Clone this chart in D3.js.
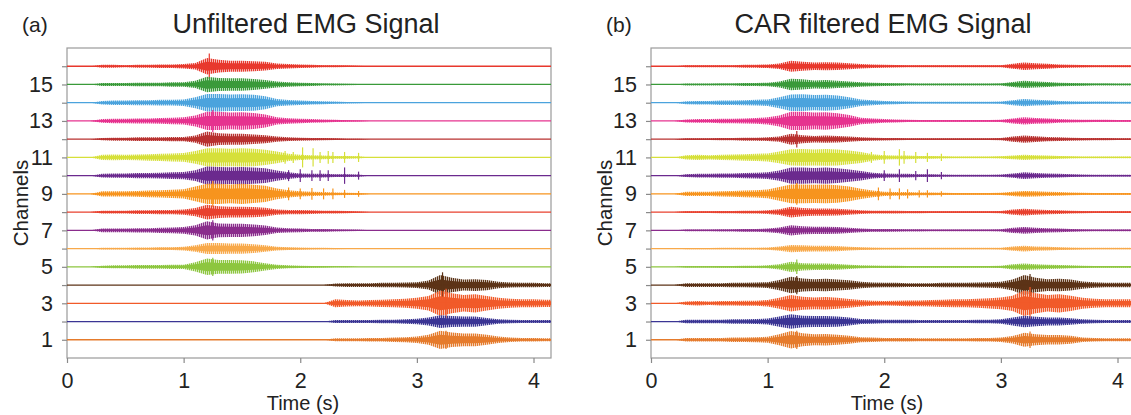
<!DOCTYPE html>
<html>
<head>
<meta charset="utf-8">
<script src="https://cdn.jsdelivr.net/npm/d3@7"></script>
<style>
  html, body { margin: 0; padding: 0; background: #fff; }
  svg { display: block; font-family: "Liberation Sans", Arial, sans-serif; }
</style>
</head>
<body>
<svg id="chart" width="1131" height="415"></svg>
<script>
// Sampling grid of the envelope arrays (s)
const times = [0,0.1,0.2,0.3,0.4,0.5,0.6,0.7,0.8,0.9,1.0,1.1,1.2,1.3,1.4,1.5,1.6,1.7,1.8,1.9,2.0,
               2.1,2.2,2.3,2.4,2.5,2.6,2.7,2.8,2.9,3.0,3.1,3.2,3.3,3.4,3.5,3.6,3.7,3.8,3.9,4.0,4.1,4.2];

const channels = [1,2,3,4,5,6,7,8,9,10,11,12,13,14,15,16];
const channelColors = ["#e57b2c","#3b3594","#f15a29","#5c3317","#8dc63f","#f8a94a","#8a2c8c","#e8412e",
                       "#f7941e","#6b2a8e","#d6e03a","#b8312f","#e6338f","#4ba3dd","#3a9a3a","#e8382d"];

const yTicks = [1,2,3,4,5,6,7,8,9,10,11,12,13,14,15,16];
const xTicks = [0,1,2,3,4];

// Envelope amplitude of each channel (channel-spacing units), rows = channel 1..16
const unfilteredEnvelope = [
  [0,0,0,0,0,0,0,0,0,0,0,0,0,0,0,0,0,0,0,0,0,0,0, .08,.08,.08,.1,.1,.12,.14,.18,.28,.5,.4,.35,.35,.28,.18,.12,.1,.1,.08,.08],
  [0,0,0,0,0,0,0,0,0,0,0,0,0,0,0,0,0,0,0,0,0,0,0, .08,.08,.08,.08,.1,.1,.12,.15,.22,.35,.3,.28,.28,.2,.12,.1,.08,.08,.08,.08],
  [0,0,0,0,0,0,0,0,0,0,0,0,0,0,0,0,0,0,0,0,0,0,0, .22,.18,.16,.18,.2,.22,.25,.3,.4,.7,.55,.45,.5,.4,.3,.25,.22,.22,.2,.2],
  [0,0,0,0,0,0,0,0,0,0,0,0,0,0,0,0,0,0,0,0,0,0,0, .08,.1,.1,.1,.12,.12,.14,.16,.25,.55,.4,.3,.32,.28,.18,.14,.12,.12,.1,.1],
  [0,0,0,.06,.08,.08,.1,.1,.1,.12,.12,.25,.45,.38,.38,.36,.3,.2,.12,.08,.06,.05,.04,.03,.02,0, 0,0,0,0,0,0,0,0,0,0,0,0,0,0,0,0,0],
  [0,0,0,.05,.05,.05,.06,.06,.08,.08,.1,.18,.3,.3,.28,.28,.24,.18,.1,.08,.06,.05,.04,.03,.02,0, 0,0,0,0,0,0,0,0,0,0,0,0,0,0,0,0,0],
  [0,0,0,.1,.1,.1,.12,.12,.14,.16,.18,.28,.5,.38,.36,.36,.32,.26,.15,.12,.1,.08,.08,.06,.05,.04, 0,0,0,0,0,0,0,0,0,0,0,0,0,0,0,0,0],
  [0,0,0,.08,.08,.08,.1,.1,.12,.12,.14,.22,.4,.32,.3,.3,.28,.24,.15,.12,.12,.1,.08,.08,.06,.04, 0,0,0,0,0,0,0,0,0,0,0,0,0,0,0,0,0],
  [0,0,0,.14,.14,.14,.16,.18,.2,.22,.26,.4,.55,.55,.52,.55,.5,.45,.3,.2,.14,.12,.1,.08,.06,.05, 0,0,0,0,0,0,0,0,0,0,0,0,0,0,0,0,0],
  [0,0,0,.1,.12,.12,.14,.14,.16,.18,.2,.3,.5,.48,.46,.48,.45,.4,.28,.18,.12,.1,.1,.08,.08,.06, 0,0,0,0,0,0,0,0,0,0,0,0,0,0,0,0,0],
  [0,0,0,.14,.16,.14,.16,.18,.2,.22,.24,.35,.5,.5,.48,.5,.48,.42,.32,.2,.14,.12,.1,.08,.08,.06, 0,0,0,0,0,0,0,0,0,0,0,0,0,0,0,0,0],
  [0,0,0,.06,.08,.08,.1,.1,.1,.12,.12,.2,.42,.32,.3,.3,.26,.22,.14,.1,.08,.07,.06,.05,.03,.02, 0,0,0,0,0,0,0,0,0,0,0,0,0,0,0,0,0],
  [0,0,0,.1,.12,.12,.14,.14,.16,.18,.2,.3,.5,.5,.46,.48,.44,.36,.2,.15,.12,.1,.08,.06,.04,.03, 0,0,0,0,0,0,0,0,0,0,0,0,0,0,0,0,0],
  [0,0,0,.1,.12,.12,.14,.14,.16,.16,.18,.3,.48,.48,.45,.46,.44,.36,.2,.15,.12,.1,.08,.06,.04,.03, 0,0,0,0,0,0,0,0,0,0,0,0,0,0,0,0,0],
  [0,0,0,.08,.08,.08,.1,.1,.1,.12,.12,.2,.42,.36,.34,.34,.3,.24,.16,.12,.1,.08,.06,.05,.04,.03, 0,0,0,0,0,0,0,0,0,0,0,0,0,0,0,0,0],
  [0,0,0,.08,.08,.06,.08,.08,.1,.1,.12,.18,.45,.35,.3,.3,.28,.24,.15,.12,.1,.08,.06,.05,.04,.03, 0,0,0,0,0,0,0,0,0,0,0,0,0,0,0,0,0]
];

const carEnvelope = [
  [0,0,0,.1,.1,.1,.1,.12,.12,.14,.16, .3,.48,.36,.3,.32,.28,.22,.14, .12,.1,.1,.1,.08,.08,.08,.08,.08,.1,.1, .12,.2,.38,.3,.26,.26,.22,.12,.1,.08,.08,.08,.08],
  [0,0,0,.1,.1,.1,.1,.12,.12,.14,.16, .28,.4,.32,.3,.3,.28,.22,.14, .12,.1,.1,.1,.08,.08,.08,.08,.08,.1,.1, .12,.22,.32,.26,.22,.22,.18,.12,.1,.08,.08,.08,.08],
  [0,0,0,.1,.12,.1,.12,.12,.14,.14,.18, .3,.45,.36,.32,.34,.3,.24,.18, .14,.12,.14,.16,.16,.18,.2,.22,.22,.25,.28, .32,.42,.7,.55,.45,.5,.42,.3,.25,.22,.22,.22,.22],
  [0,0,0,.1,.1,.1,.1,.12,.12,.14,.16, .28,.45,.36,.32,.34,.3,.26,.18, .14,.12,.12,.1,.1,.1,.12,.12,.12,.14,.15, .18,.3,.55,.4,.32,.34,.3,.2,.15,.12,.12,.12,.12],
  [0,0,0,.04,.04,.04,.05,.05,.06,.06,.08, .14,.28,.2,.18,.18,.16,.12,.08, .07,.06,.06,.05,.05,.05,.05,.05,.05,.05,.05, .06,.14,.18,.14,.12,.1,.08,.06,.05,.05,.05,.05,.05],
  [0,0,0,.03,.03,.03,.04,.04,.05,.05,.06, .12,.2,.18,.16,.16,.14,.1,.08, .06,.05,.05,.04,.04,.04,.04,.04,.04,.04,.04, .05,.12,.16,.12,.1,.08,.06,.05,.04,.04,.04,.04,.04],
  [0,0,0,.05,.05,.05,.06,.06,.08,.08,.1, .16,.28,.22,.2,.2,.18,.14,.1, .08,.08,.07,.06,.06,.05,.05,.05,.05,.05,.05, .06,.14,.18,.14,.12,.1,.08,.06,.05,.05,.05,.05,.05],
  [0,0,0,.05,.05,.05,.06,.06,.08,.08,.1, .16,.3,.22,.2,.2,.18,.14,.1, .08,.08,.07,.06,.06,.05,.05,.05,.05,.05,.05, .06,.14,.18,.14,.12,.1,.08,.06,.05,.05,.05,.05,.05],
  [0,0,0,.12,.12,.12,.14,.16,.18,.2,.24, .38,.52,.52,.5,.52,.48,.4,.28, .18,.12,.1,.1,.08,.08,.06,.05,.05,.05,.05, .06,.12,.16,.14,.12,.1,.08,.06,.05,.05,.05,.05,.05],
  [0,0,0,.08,.1,.1,.12,.12,.14,.16,.18, .28,.45,.44,.42,.44,.4,.34,.26, .16,.12,.1,.1,.08,.08,.06,.05,.05,.05,.05, .06,.12,.18,.14,.12,.1,.08,.06,.05,.05,.05,.05,.05],
  [0,0,0,.12,.14,.12,.14,.16,.18,.2,.22, .32,.45,.46,.44,.46,.44,.38,.3, .18,.12,.1,.1,.08,.08,.06,.05,.05,.05,.05, .06,.1,.14,.12,.1,.08,.06,.05,.05,.05,.05,.05,.05],
  [0,0,0,.05,.05,.05,.06,.06,.08,.08,.1, .14,.3,.22,.18,.2,.18,.14,.1, .08,.07,.06,.05,.05,.05,.05,.05,.05,.05,.05, .06,.14,.2,.16,.12,.1,.08,.07,.06,.06,.05,.05,.05],
  [0,0,0,.08,.1,.1,.12,.12,.14,.16,.2, .3,.5,.5,.46,.48,.42,.32,.18, .14,.1,.08,.06,.05,.05,.05,.05,.05,.05,.05, .06,.14,.2,.16,.14,.1,.08,.07,.06,.06,.05,.05,.05],
  [0,0,0,.08,.1,.1,.12,.12,.14,.16,.18, .3,.45,.46,.42,.44,.4,.3,.18, .14,.1,.08,.06,.05,.05,.05,.05,.05,.05,.05, .06,.14,.2,.16,.14,.1,.08,.07,.06,.06,.05,.05,.05],
  [0,0,0,.05,.05,.05,.06,.06,.08,.08,.1, .16,.32,.28,.22,.24,.2,.16,.12, .1,.08,.07,.06,.05,.05,.05,.05,.05,.05,.05, .06,.14,.2,.16,.14,.1,.08,.07,.06,.06,.05,.05,.05],
  [0,0,0,.05,.05,.05,.06,.06,.08,.08,.1, .15,.3,.25,.2,.22,.2,.16,.12, .1,.08,.07,.06,.05,.05,.05,.05,.05,.05,.05, .06,.14,.2,.16,.14,.1,.08,.07,.06,.06,.05,.05,.05]
];

// Isolated spikes: [channel, time (s), amplitude]
const unfilteredSpikes = [
  [11,1.87,.35],[11,1.94,.3],[11,2.02,.55],[11,2.11,.5],[11,2.17,.3],[11,2.24,.35],[11,2.28,.3],[11,2.38,.3],[11,2.5,.25],
  [10,1.9,.3],[10,2.0,.35],[10,2.1,.3],[10,2.17,.3],[10,2.24,.3],[10,2.38,.45],[10,2.5,.22],
  [9,1.9,.35],[9,2.0,.3],[9,2.1,.32],[9,2.2,.3],[9,2.28,.3],[9,2.38,.22],[9,2.5,.16],
  [16,1.22,.7],[13,1.25,.6],[9,1.25,.7],[7,1.25,.55],[5,1.25,.5],[4,3.22,.7],[3,3.25,.8],[1,3.25,.5]
];
const carSpikes = [
  [11,1.89,.3],[11,2.0,.35],[11,2.13,.45],[11,2.17,.35],[11,2.27,.3],[11,2.37,.25],[11,2.49,.2],
  [10,2.0,.3],[10,2.13,.35],[10,2.27,.25],[10,2.37,.35],[10,2.49,.2],
  [9,1.95,.35],[9,2.05,.3],[9,2.13,.3],[9,2.2,.25],[9,2.3,.2],[9,2.37,.2],[9,2.49,.15],
  [12,1.25,.45],[9,1.25,.6],[5,1.25,.4],[4,1.25,.5],[1,1.25,.5],[4,3.25,.6],[3,3.25,.9],[1,3.25,.45]
];

const panelTitles = ["Unfiltered EMG Signal", "CAR filtered EMG Signal"];
const panelLetters = ["(a)", "(b)"];

const svg = d3.select("#chart");
const plotW = 484, plotH = 310, plotTop = 48;

const x = d3.scaleLinear().domain([0, 4.15]).range([0, plotW]);
const y = d3.scaleLinear().domain([0, 17]).range([plotH, 0]);

// vertical hatch per trace colour, giving the bursts their dense oscillating texture
const defs = svg.append("defs");
channelColors.forEach((col, k) => {
  const p = defs.append("pattern").attr("id", "hatch" + k)
    .attr("patternUnits", "userSpaceOnUse").attr("width", 2).attr("height", 4);
  p.append("rect").attr("x", 0).attr("y", 0).attr("width", 1).attr("height", 4).attr("fill", col);
  p.append("rect").attr("x", 1).attr("y", 0).attr("width", 1).attr("height", 4)
    .attr("fill", col).attr("fill-opacity", 0.35);
});

function drawPanel(idx, left, envelope, spikes, titleX) {
  const g = svg.append("g").attr("transform", `translate(${left},${plotTop})`);
  const clipId = "clip" + idx;
  defs.append("clipPath").attr("id", clipId)
    .append("rect").attr("x", left).attr("y", plotTop).attr("width", plotW).attr("height", plotH);

  const inner = svg.append("g").attr("clip-path", `url(#${clipId})`)
    .append("g").attr("transform", `translate(${left},${plotTop})`);

  // channels drawn top to bottom so lower traces sit over upper ones
  for (let k = channels.length - 1; k >= 0; k--) {
    const ch = channels[k];
    const col = channelColors[k];
    const amps = envelope[k];
    const pts = times.map((t, i) => ({t, a: amps[i]}));

    inner.append("path")
      .datum(pts)
      .attr("fill", `url(#hatch${k})`)
      .attr("d", d3.area().x(d => x(d.t)).y0(d => y(ch - d.a)).y1(d => y(ch + d.a)));
    inner.append("path")
      .datum(pts)
      .attr("fill", col)
      .attr("d", d3.area().x(d => x(d.t)).y0(d => y(ch - d.a * 0.55)).y1(d => y(ch + d.a * 0.55)));

    inner.append("line")
      .attr("x1", x(0)).attr("x2", x(4.15))
      .attr("y1", y(ch)).attr("y2", y(ch))
      .attr("stroke", col).attr("stroke-width", 1.3);

    inner.selectAll(null)
      .data(spikes.filter(s => s[0] === ch))
      .enter().append("line")
      .attr("x1", s => x(s[1])).attr("x2", s => x(s[1]))
      .attr("y1", s => y(ch - s[2])).attr("y2", s => y(ch + s[2]))
      .attr("stroke", col).attr("stroke-width", 1.2);
  }

  // frame
  g.append("rect").attr("width", plotW).attr("height", plotH)
    .attr("fill", "none").attr("stroke", "#9a9a9a").attr("stroke-width", 1.2);

  const yAxis = d3.axisLeft(y).tickValues(yTicks)
    .tickFormat(d => (d % 2 === 1 ? d : "")).tickSize(5).tickPadding(9).tickSizeOuter(0);
  const ya = g.append("g").call(yAxis);
  ya.select(".domain").remove();

  const xAxis = d3.axisBottom(x).tickValues(xTicks).tickFormat(d3.format("d"))
    .tickSize(5).tickPadding(10).tickSizeOuter(0);
  const xa = g.append("g").attr("transform", `translate(0,${plotH})`).call(xAxis);
  xa.select(".domain").remove();

  [ya, xa].forEach(a => {
    a.selectAll(".tick line").attr("stroke", "#8a8a8a").attr("stroke-width", 1.2);
    a.selectAll(".tick text").attr("fill", "#222").style("font-size", "21.5px")
      .style("font-family", "'Liberation Sans', Arial, sans-serif");
  });

  svg.append("text").attr("x", left + plotW / 2 - 6).attr("y", 410)
    .attr("text-anchor", "middle").attr("fill", "#222").style("font-size", "20px")
    .text("Time (s)");

  svg.append("text")
    .attr("transform", `translate(${left - 39},${plotTop + 155}) rotate(-90)`)
    .attr("text-anchor", "middle").attr("fill", "#222").style("font-size", "20.5px")
    .text("Channels");

  svg.append("text").attr("x", titleX).attr("y", 33)
    .attr("text-anchor", "middle").attr("fill", "#222").style("font-size", "27px")
    .text(panelTitles[idx]);

  svg.append("text").attr("x", left - 45).attr("y", 32)
    .attr("fill", "#222").style("font-size", "21px")
    .text(panelLetters[idx]);
}

drawPanel(0, 67, unfilteredEnvelope, unfilteredSpikes, 306);
drawPanel(1, 651, carEnvelope, carSpikes, 883);
</script>
</body>
</html>
